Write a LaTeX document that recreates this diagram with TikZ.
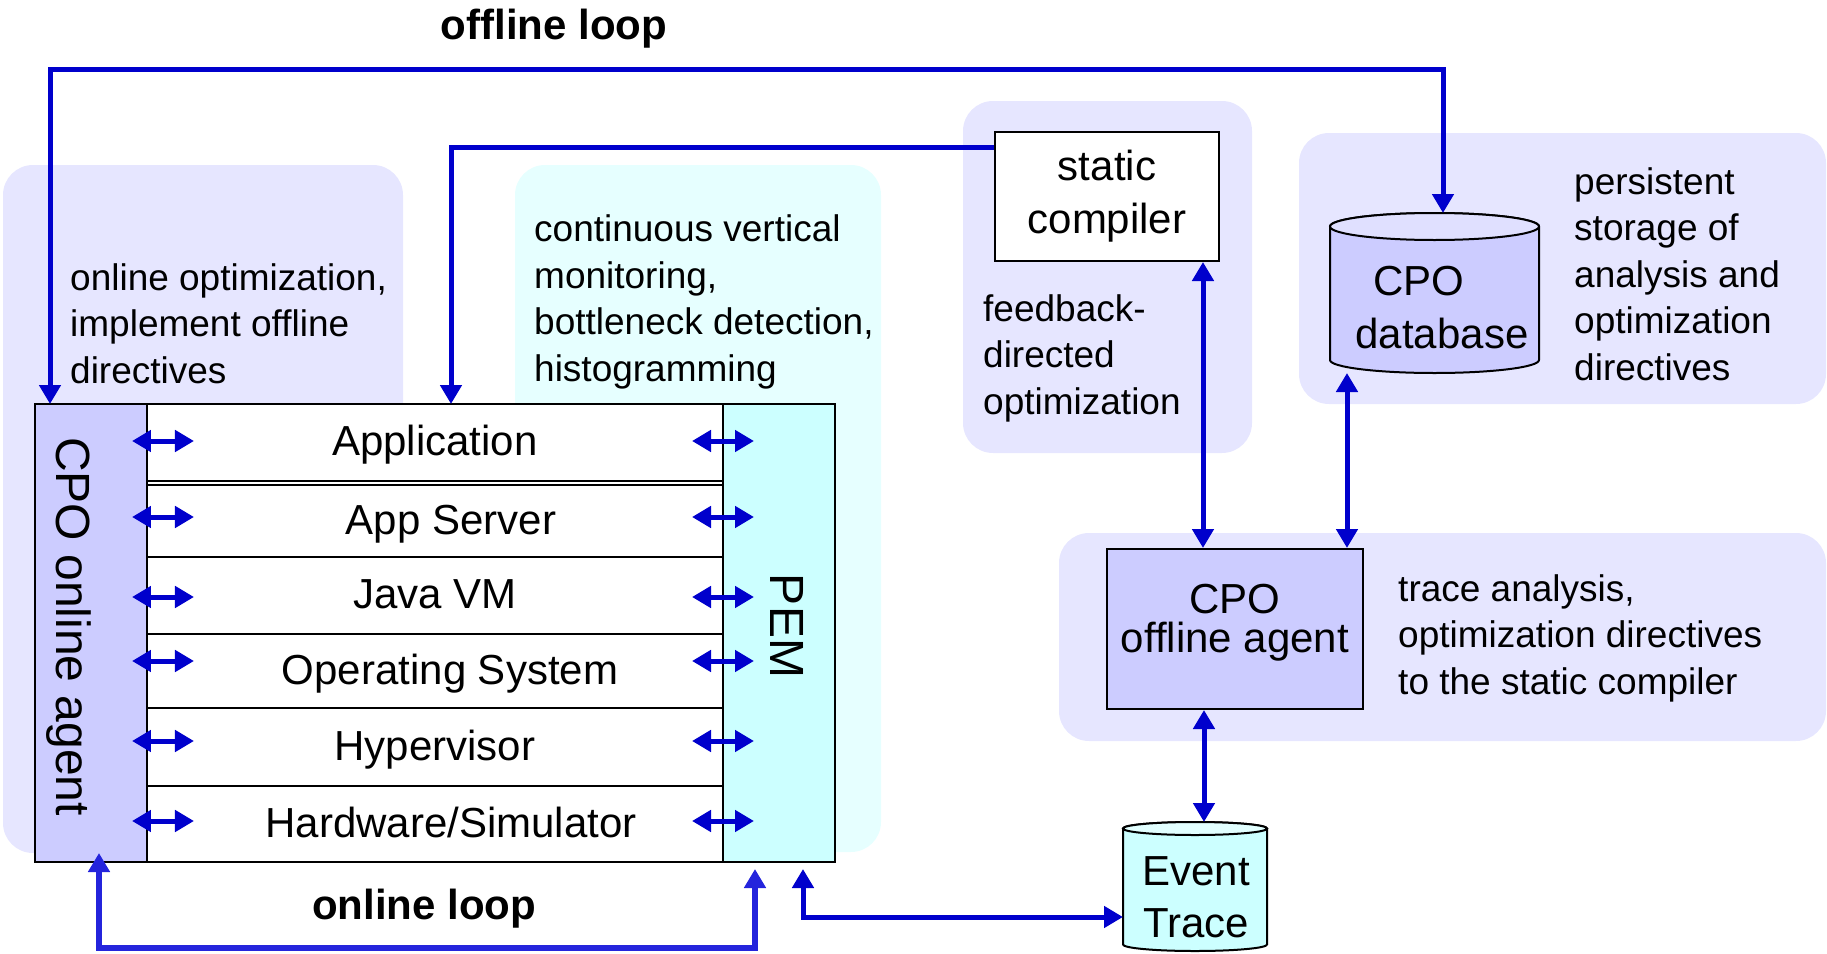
\documentclass[tikz,border=0pt]{standalone}
\usepackage{fontspec}
\setmainfont{Liberation Sans}
\usetikzlibrary{arrows.meta}

\definecolor{arrowblue}{RGB}{0,0,204}
\definecolor{loopblue}{RGB}{36,36,220}
\definecolor{lavender}{RGB}{204,204,255}
\definecolor{lavenderbg}{RGB}{230,230,255}
\definecolor{lavendertop}{RGB}{224,224,255}
\definecolor{cyanfill}{RGB}{204,255,255}
\definecolor{cyanbg}{RGB}{230,255,255}
\definecolor{cyantop}{RGB}{226,255,255}

\begin{document}
\begin{tikzpicture}[x=1bp, y=1bp,
  bgpanel/.style={rounded corners=30bp},
  stackrow/.style={draw=black, line width=1.5bp, fill=white, minimum width=576bp, inner sep=0pt, outer sep=0pt},
  rowtext/.style={font=\fontsize{42bp}{50bp}\selectfont, text height=26bp, text depth=0pt, inner sep=0pt},
  sidecol/.style={draw=black, line width=1.5bp, minimum width=112bp, minimum height=458bp, inner sep=0pt, outer sep=0pt},
  sidetext/.style={font=\fontsize{48bp}{56bp}\selectfont, rotate=-90, text height=34bp, text depth=0pt, inner sep=0pt},
  % multi-line text: the base anchor sits on the last line
  desctext/.style={font=\fontsize{37bp}{46.5bp}\selectfont, align=left, anchor=base west, inner sep=0pt},
  boxtext/.style={font=\fontsize{42bp}{53bp}\selectfont, align=center, inner sep=0pt},
  loopfont/.style={font=\bfseries\fontsize{42bp}{50bp}\selectfont, anchor=base, inner sep=0pt},
  wire/.style={draw=arrowblue, line width=5bp},
  onehead/.style={arrows={-Triangle[length=19bp,width=21bp]}},
  twohead/.style={arrows={Triangle[length=19bp,width=21bp]-Triangle[length=19bp,width=21bp]}},
]
\useasboundingbox (0,0) rectangle (1827,-953);

% shaded panels behind the groups
\fill[lavenderbg, bgpanel] (3,-165) rectangle (403,-853);
\fill[cyanbg, bgpanel] (515,-165) rectangle (881,-852);
\fill[lavenderbg, bgpanel] (963,-101) rectangle (1252,-453);
\fill[lavenderbg, bgpanel] (1299,-133) rectangle (1826,-404);
\fill[lavenderbg, bgpanel] (1059,-533) rectangle (1826,-741);

% panel descriptions
\node[desctext] (onlinedesc) at (70,-383) {online optimization,\\implement offline\\directives};
\node[desctext] (pemdesc) at (534,-381) {continuous vertical\\monitoring,\\bottleneck detection,\\histogramming};
\node[desctext] (scdesc) at (983,-414) {feedback-\\directed\\optimization};
\node[desctext] (dbdesc) at (1574,-380) {persistent\\storage of\\analysis and\\optimization\\directives};
\node[desctext] (aoffdesc) at (1398,-694) {trace analysis,\\optimization directives\\to the static compiler};

% the software/hardware stack
\fill[white] (147,-404) rectangle (723,-862);
\node[stackrow, minimum height=77bp] (app) at (435,-442.5) {};
\node[stackrow, minimum height=72bp] (appsrv) at (435,-521) {};
\node[stackrow, minimum height=77bp] (jvm) at (435,-595.5) {};
\node[stackrow, minimum height=74bp] (os) at (435,-671) {};
\node[stackrow, minimum height=78bp] (hyp) at (435,-747) {};
\node[stackrow, minimum height=76bp] (hw) at (435,-824) {};
\node[rowtext] at (app.center) {Application};
\node[rowtext, xshift=16bp] at (appsrv.center) {App Server};
\node[rowtext] at (jvm.center) {Java VM};
\node[rowtext, xshift=15bp] at (os.center) {Operating System};
\node[rowtext] at (hyp.center) {Hypervisor};
\node[rowtext, xshift=16bp] at (hw.center) {Hardware/Simulator};

\node[sidecol, fill=lavender] (online) at (91,-633) {};
\node[sidecol, fill=cyanfill] (pem) at (779,-633) {};
\node[sidetext] (onlinename) at (73.5,-626.5) {CPO online agent};
\node[sidetext] (pemname) at (787,-626) {PEM};
\draw[line width=2bp] (online.north west) rectangle (pem.south east);

% static compiler
\node[draw, line width=2bp, fill=white, minimum width=224bp, minimum height=129bp, boxtext] (sc) at (1107,-196.5) {static\\compiler};

% offline agent
\node[draw, line width=2bp, fill=lavender, minimum width=256bp, minimum height=160bp, inner sep=0pt] (aoff) at (1235,-629) {};
\node[boxtext, font=\fontsize{42bp}{39bp}\selectfont] (aofftext) at (1235,-623) {CPO\\offline agent};

% CPO database cylinder
\filldraw[fill=lavender, line width=2bp] (1330,-226.5) -- (1330,-360)
  arc[start angle=180, end angle=360, x radius=104.5, y radius=13] -- (1539,-226.5)
  arc[start angle=0, end angle=180, x radius=104.5, y radius=13.5] -- cycle;
\filldraw[fill=lavendertop, line width=2bp] (1434.5,-226.5) ellipse[x radius=104.5, y radius=13.5];
\node[minimum width=209bp, minimum height=160bp, inner sep=0pt, outer sep=0pt] (db) at (1434.5,-293) {};
\node[boxtext, anchor=base] (dbtext1) at (1419,-295) {CPO};
\node[boxtext, anchor=base] (dbtext2) at (1442,-348) {database};

% event trace cylinder
\filldraw[fill=cyanfill, line width=2bp] (1123,-828.5) -- (1123,-944.5)
  arc[start angle=180, end angle=360, x radius=72, y radius=6.5] -- (1267,-828.5)
  arc[start angle=0, end angle=180, x radius=72, y radius=6.5] -- cycle;
\filldraw[fill=cyantop, line width=2bp] (1195,-828.5) ellipse[x radius=72, y radius=6.5];
\node[minimum width=144bp, minimum height=130bp, inner sep=0pt, outer sep=0pt] (et) at (1195,-887) {};
\node[boxtext, font=\fontsize{42bp}{52bp}\selectfont] (ettext) at (1196,-897) {Event\\Trace};

% loop captions
\node[loopfont] (offlinelbl) at (554,-39) {offline loop};
\node[loopfont] (onlinelbl) at (424,-919) {online loop};

% connectors
\coordinate (offlinetop) at (0,-69);
\draw[wire, twohead] ([xshift=8.5bp]db.north) -- ([xshift=8.5bp]db.north |- offlinetop)
  -- ([xshift=15bp]online.north west |- offlinetop) -- ([xshift=15bp]online.north west);
\draw[wire, onehead] ([yshift=-16bp]sc.north west) -| ([xshift=16bp]app.north);
\draw[wire, twohead] ([xshift=96bp]sc.south) -- ([xshift=96bp]sc.south |- aoff.north);
\draw[wire, twohead] ([xshift=112bp]aoff.north) -- ([xshift=112bp]aoff.north |- db.south);
\draw[wire, twohead] ([xshift=-31bp]aoff.south) -- ([xshift=-31bp]aoff.south |- et.north);
\draw[wire, draw=loopblue, line width=6bp, twohead] ([xshift=32bp, yshift=-7bp]pem.south west)
  -- ++(0,-79) -| ([xshift=64bp, yshift=9bp]online.south west);
\draw[wire, twohead] ([xshift=80bp, yshift=-7bp]pem.south west) |- ([yshift=-30bp]et.west);

% per-layer links to the online agent and to PEM
\foreach \r/\dy in {app/1.5, appsrv/4, jvm/-1.5, os/10, hyp/6, hw/3} {
  \draw[wire, line width=5bp, twohead] ([xshift=-15bp, yshift=\dy bp]\r.west) -- ([xshift=47bp, yshift=\dy bp]\r.west);
  \draw[wire, line width=5bp, twohead] ([xshift=-31bp, yshift=\dy bp]\r.east) -- ([xshift=31bp, yshift=\dy bp]\r.east);
}
\end{tikzpicture}
\end{document}
